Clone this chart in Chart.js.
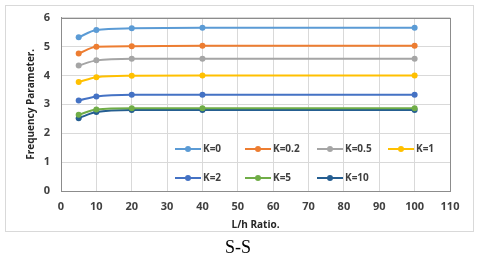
<!DOCTYPE html>
<html>
<head>
<meta charset="utf-8">
<script src="https://cdn.jsdelivr.net/npm/chart.js@4/dist/chart.umd.min.js"></script>
<style>
  body { margin: 0; background: #fff; }
  #wrap { position: relative; width: 480px; height: 256px; }
  #caption { position: absolute; left: 0; width: 476px; top: 237px; text-align: center;
             font-family: "Liberation Serif", serif; font-size: 18px; color: #000; }
</style>
</head>
<body>
<div id="wrap">
  <canvas id="freqChart" width="480" height="256"></canvas>
  <div id="caption">S-S</div>
</div>
<script>
// L/h ratio values (x)
const lhRatio = [5, 10, 20, 40, 100];

// Frequency parameter for each K
const k0   = [5.32, 5.57, 5.63, 5.65, 5.65];
const k02  = [4.76, 4.99, 5.01, 5.03, 5.03];
const k05  = [4.34, 4.52, 4.58, 4.58, 4.58];
const k1   = [3.77, 3.94, 3.99, 4.00, 4.00];
const k2   = [3.13, 3.27, 3.33, 3.33, 3.33];
const k5   = [2.64, 2.82, 2.86, 2.86, 2.86];
const k10  = [2.52, 2.73, 2.80, 2.80, 2.80];

const seriesLabels = ["K=0", "K=0.2", "K=0.5", "K=1", "K=2", "K=5", "K=10"];
const seriesValues = [k0, k02, k05, k1, k2, k5, k10];
const seriesColors = ["#5B9BD5", "#ED7D31", "#A5A5A5", "#FFC000", "#4472C4", "#70AD47", "#255E91"];

const xTicks = [0, 10, 20, 30, 40, 50, 60, 70, 80, 90, 100, 110];
const yTicks = [0, 1, 2, 3, 4, 5, 6];

const font = "'Open Sans', sans-serif";

const datasets = seriesLabels.map((label, i) => ({
    label: label,
    data: lhRatio.map((x, j) => ({ x: x, y: seriesValues[i][j] })),
    borderColor: seriesColors[i],
    backgroundColor: seriesColors[i],
    borderWidth: 2,
    pointRadius: 3,
    pointBorderWidth: 0,
    cubicInterpolationMode: "monotone",
    fill: false
}));

// outer frame + plot outline
const framePlugin = {
    id: "frame",
    beforeDraw(chart) {
        const ctx = chart.ctx;
        ctx.save();
        ctx.fillStyle = "#fff";
        ctx.fillRect(0, 0, chart.width, chart.height);
        ctx.strokeStyle = "#d9d9d9";
        ctx.lineWidth = 1;
        ctx.strokeRect(5.5, 5.5, 468, 226);
        ctx.restore();
    },
    afterDatasetsDraw(chart) {
        const a = chart.chartArea;
        const ctx = chart.ctx;
        ctx.save();
        ctx.strokeStyle = "#8c8c8c";
        ctx.lineWidth = 1;
        ctx.strokeRect(Math.round(a.left) + 0.5, Math.round(a.top) + 0.5,
            Math.round(a.right - a.left), Math.round(a.bottom - a.top));
        ctx.restore();
    }
};

// legend inside the plot area, two rows
const insideLegend = {
    id: "insideLegend",
    afterDraw(chart) {
        const ctx = chart.ctx;
        const a = chart.chartArea;
        const cols = [175, 245, 317, 388];
        const rows = [a.bottom - 42, a.bottom - 13];
        ctx.save();
        ctx.font = "bold 10px " + font;
        ctx.textBaseline = "middle";
        chart.data.datasets.forEach((ds, i) => {
            const x = cols[i % 4];
            const y = rows[Math.floor(i / 4)];
            ctx.strokeStyle = ds.borderColor;
            ctx.lineWidth = 2;
            ctx.beginPath();
            ctx.moveTo(x, y);
            ctx.lineTo(x + 26, y);
            ctx.stroke();
            ctx.fillStyle = ds.borderColor;
            ctx.beginPath();
            ctx.arc(x + 13, y, 3, 0, Math.PI * 2);
            ctx.fill();
            ctx.fillStyle = "#404040";
            ctx.fillText(ds.label, x + 28, y + 0.5);
        });
        ctx.restore();
    }
};

const ctx = document.getElementById("freqChart").getContext("2d");
const chart = new Chart(ctx, {
    type: "line",
    data: { datasets: datasets },
    plugins: [framePlugin, insideLegend],
    options: {
        responsive: false,
        animation: false,
        layout: { padding: { top: 15, right: 30, bottom: 25, left: 11 } },
        plugins: { legend: { display: false }, tooltip: { enabled: false } },
        scales: {
            x: {
                type: "linear",
                min: 0,
                max: 110,
                afterBuildTicks: s => { s.ticks = xTicks.map(v => ({ value: v })); },
                afterFit: s => { s.height = 40; },
                grid: { color: "#d9d9d9", drawTicks: false },
                border: { color: "#8c8c8c" },
                ticks: { padding: 9, color: "#404040", font: { family: font, size: 11, weight: "bold" } },
                title: {
                    display: true,
                    text: "L/h Ratio.",
                    color: "#262626",
                    padding: { top: 0, bottom: 0 },
                    font: { family: font, size: 10, weight: "bold" }
                }
            },
            y: {
                min: 0,
                max: 6,
                afterBuildTicks: s => { s.ticks = yTicks.map(v => ({ value: v })); },
                afterFit: s => { s.width = 50; },
                grid: { color: "#d9d9d9", drawTicks: false },
                border: { color: "#8c8c8c" },
                ticks: { padding: 11, color: "#404040", font: { family: font, size: 11, weight: "bold" } },
                title: {
                    display: true,
                    text: "Frequency Parameter.",
                    color: "#262626",
                    padding: { top: 14, bottom: 0 },
                    font: { family: font, size: 10, weight: "bold" }
                }
            }
        }
    }
});
</script>
</body>
</html>
